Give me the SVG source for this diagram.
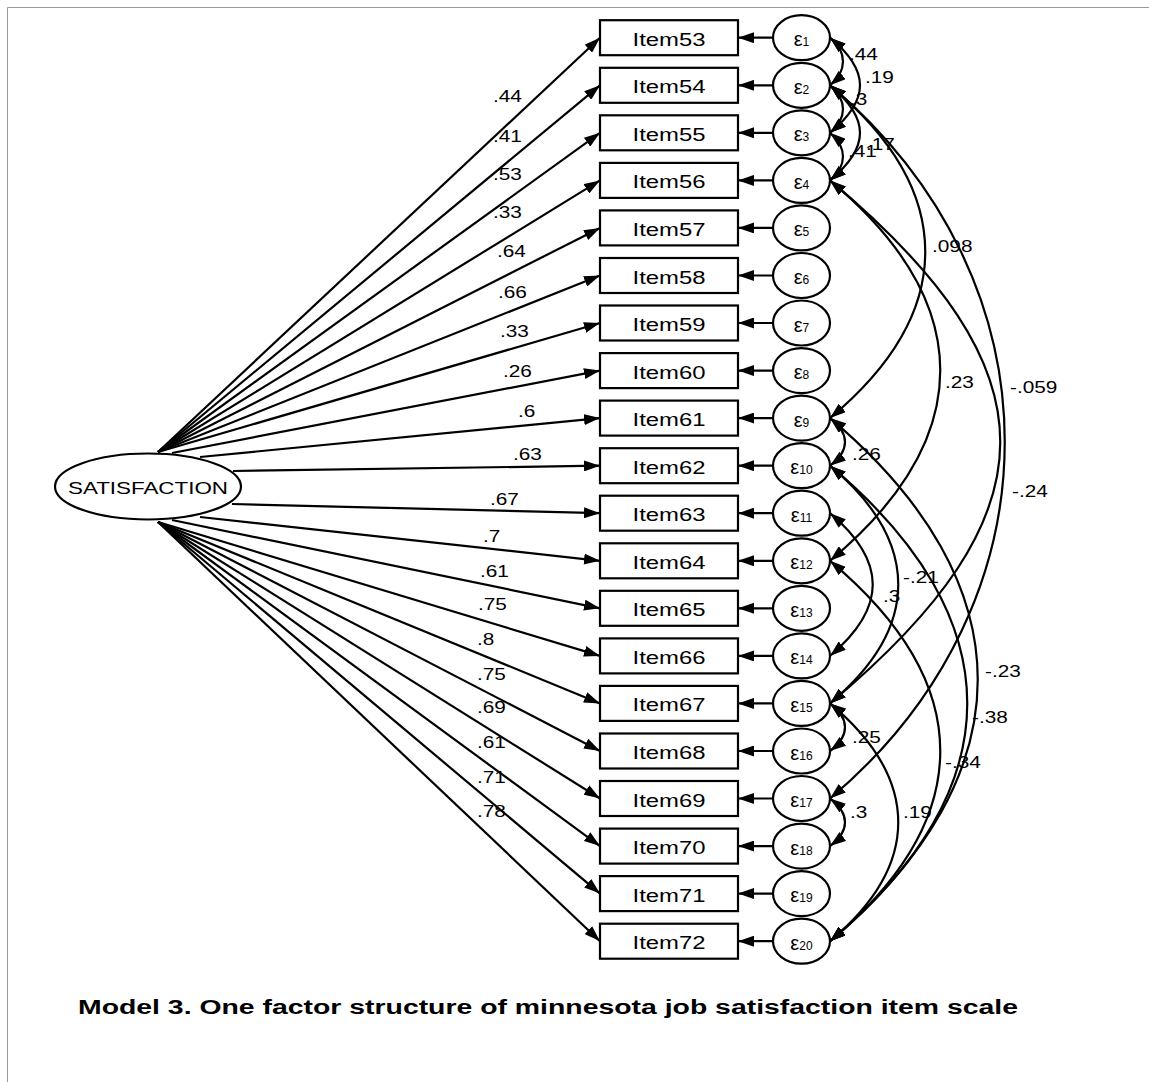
<svg xmlns="http://www.w3.org/2000/svg" width="1149" height="1082" viewBox="0 0 1149 1082">
<style>
text{font-family:"Liberation Sans",Arial,sans-serif;fill:#000}
.box{fill:#fff;stroke:#000;stroke-width:2.2}
.lat{fill:#fff;stroke:#000;stroke-width:2.2}
.conn{fill:none;stroke:#000;stroke-width:2.2}
.one{marker-end:url(#ah)}
.two{marker-start:url(#ah);marker-end:url(#ah)}
.it{font-size:18px}
.eps{font-size:20px}
.sub{font-size:12px}
.lab{font-size:16px}
.cap{font-size:20px;font-weight:bold}
.frame{stroke:#999;stroke-width:1;fill:none}
</style>
<defs>
<marker id="ah" viewBox="0 0 16 11" refX="16" refY="5.5" markerWidth="16" markerHeight="11" markerUnits="userSpaceOnUse" orient="auto-start-reverse"><path d="M0,0 L16,5.5 L0,11 z" fill="#000"/></marker>
</defs>
<rect width="1149" height="1082" fill="#fff"/>
<path class="frame" d="M7.5,1082 V7.5 H1149"/>

<g id="connectors">
<g id="loadings">
<path class="conn one" d="M158,452 L600,37.7"/>
<path class="conn one" d="M158,452 L600,85.3"/>
<path class="conn one" d="M158,452 L600,132.8"/>
<path class="conn one" d="M158,452 L600,180.4"/>
<path class="conn one" d="M158,452 L600,227.9"/>
<path class="conn one" d="M158,452 L600,275.5"/>
<path class="conn one" d="M158,452 L600,323.0"/>
<path class="conn one" d="M172,453 L600,370.6"/>
<path class="conn one" d="M200,457 L600,418.1"/>
<path class="conn one" d="M233,471 L600,465.7"/>
<path class="conn one" d="M232,504 L600,513.2"/>
<path class="conn one" d="M200,517 L600,560.8"/>
<path class="conn one" d="M172,520 L600,608.3"/>
<path class="conn one" d="M158,522 L600,655.9"/>
<path class="conn one" d="M158,522 L600,703.4"/>
<path class="conn one" d="M158,522 L600,751.0"/>
<path class="conn one" d="M158,522 L600,798.5"/>
<path class="conn one" d="M158,522 L600,846.1"/>
<path class="conn one" d="M158,522 L600,893.6"/>
<path class="conn one" d="M158,522 L600,941.2"/>
</g>
<g id="errors">
<path class="conn one" d="M773,37.7 H738"/>
<path class="conn one" d="M773,85.3 H738"/>
<path class="conn one" d="M773,132.8 H738"/>
<path class="conn one" d="M773,180.4 H738"/>
<path class="conn one" d="M773,227.9 H738"/>
<path class="conn one" d="M773,275.5 H738"/>
<path class="conn one" d="M773,323.0 H738"/>
<path class="conn one" d="M773,370.6 H738"/>
<path class="conn one" d="M773,418.1 H738"/>
<path class="conn one" d="M773,465.7 H738"/>
<path class="conn one" d="M773,513.2 H738"/>
<path class="conn one" d="M773,560.8 H738"/>
<path class="conn one" d="M773,608.3 H738"/>
<path class="conn one" d="M773,655.9 H738"/>
<path class="conn one" d="M773,703.4 H738"/>
<path class="conn one" d="M773,751.0 H738"/>
<path class="conn one" d="M773,798.5 H738"/>
<path class="conn one" d="M773,846.1 H738"/>
<path class="conn one" d="M773,893.6 H738"/>
<path class="conn one" d="M773,941.2 H738"/>
</g>
<g id="covariances">
<path class="conn two" d="M830,37.7 C847.3,52.2 847.3,70.8 830,85.3"/>
<path class="conn two" d="M830,37.7 C870,70.7 870,99.8 830,132.8"/>
<path class="conn two" d="M830,85.3 C847.3,99.8 847.3,118.3 830,132.8"/>
<path class="conn two" d="M830,132.8 C847.3,147.3 847.3,165.9 830,180.4"/>
<path class="conn two" d="M830,85.3 C870,118.3 870,147.4 830,180.4"/>
<path class="conn two" d="M830,85.3 C957,191.3 957,312.1 830,418.1"/>
<path class="conn two" d="M830,180.4 C977,303.4 977,437.8 830,560.8"/>
<path class="conn two" d="M830,85.3 C1063,281.3 1063,602.5 830,798.5"/>
<path class="conn two" d="M830,180.4 C1057,370.4 1057,513.4 830,703.4"/>
<path class="conn two" d="M830,418.1 C850,433.1 850,450.7 830,465.7"/>
<path class="conn two" d="M830,513.2 C887,561.2 887,607.9 830,655.9"/>
<path class="conn two" d="M830,465.7 C921,541.7 921,627.4 830,703.4"/>
<path class="conn two" d="M830,418.1 C1027,584.1 1027,775.2 830,941.2"/>
<path class="conn two" d="M830,465.7 C1013,618.7 1013,788.2 830,941.2"/>
<path class="conn two" d="M830,560.8 C977,683.8 977,818.2 830,941.2"/>
<path class="conn two" d="M830,703.4 C850,718.4 850,736.0 830,751.0"/>
<path class="conn two" d="M830,703.4 C921,779.4 921,865.2 830,941.2"/>
<path class="conn two" d="M830,798.5 C850,813.5 850,831.1 830,846.1"/>
</g>
<g id="loading-labels" class="lab">
<text x="493" y="102" textLength="28.9" lengthAdjust="spacingAndGlyphs">.44</text>
<text x="493" y="142" textLength="28.9" lengthAdjust="spacingAndGlyphs">.41</text>
<text x="493" y="180" textLength="28.9" lengthAdjust="spacingAndGlyphs">.53</text>
<text x="493" y="218" textLength="28.9" lengthAdjust="spacingAndGlyphs">.33</text>
<text x="497" y="257" textLength="28.9" lengthAdjust="spacingAndGlyphs">.64</text>
<text x="498" y="298" textLength="28.9" lengthAdjust="spacingAndGlyphs">.66</text>
<text x="500" y="337" textLength="28.9" lengthAdjust="spacingAndGlyphs">.33</text>
<text x="503" y="377" textLength="28.9" lengthAdjust="spacingAndGlyphs">.26</text>
<text x="518" y="417" textLength="17.3" lengthAdjust="spacingAndGlyphs">.6</text>
<text x="513" y="460" textLength="28.9" lengthAdjust="spacingAndGlyphs">.63</text>
<text x="490" y="505" textLength="28.9" lengthAdjust="spacingAndGlyphs">.67</text>
<text x="483" y="542" textLength="17.3" lengthAdjust="spacingAndGlyphs">.7</text>
<text x="480" y="577" textLength="28.9" lengthAdjust="spacingAndGlyphs">.61</text>
<text x="478" y="610" textLength="28.9" lengthAdjust="spacingAndGlyphs">.75</text>
<text x="477" y="645" textLength="17.3" lengthAdjust="spacingAndGlyphs">.8</text>
<text x="477" y="680" textLength="28.9" lengthAdjust="spacingAndGlyphs">.75</text>
<text x="477" y="713" textLength="28.9" lengthAdjust="spacingAndGlyphs">.69</text>
<text x="477" y="748" textLength="28.9" lengthAdjust="spacingAndGlyphs">.61</text>
<text x="477" y="783" textLength="28.9" lengthAdjust="spacingAndGlyphs">.71</text>
<text x="477" y="817" textLength="28.9" lengthAdjust="spacingAndGlyphs">.78</text>
</g>
<g id="covariance-labels" class="lab">
<text x="849" y="60" textLength="28.9" lengthAdjust="spacingAndGlyphs">.44</text>
<text x="865" y="83" textLength="28.9" lengthAdjust="spacingAndGlyphs">.19</text>
<text x="850" y="105" textLength="17.3" lengthAdjust="spacingAndGlyphs">.3</text>
<text x="866" y="150" textLength="28.9" lengthAdjust="spacingAndGlyphs">.17</text>
<text x="848" y="157" textLength="28.9" lengthAdjust="spacingAndGlyphs">.41</text>
<text x="932" y="252" textLength="40.5" lengthAdjust="spacingAndGlyphs">.098</text>
<text x="945" y="388" textLength="28.9" lengthAdjust="spacingAndGlyphs">.23</text>
<text x="1010" y="393" textLength="47.4" lengthAdjust="spacingAndGlyphs">-.059</text>
<text x="852" y="460" textLength="28.9" lengthAdjust="spacingAndGlyphs">.26</text>
<text x="1012" y="497" textLength="35.8" lengthAdjust="spacingAndGlyphs">-.24</text>
<text x="903" y="583" textLength="35.8" lengthAdjust="spacingAndGlyphs">-.21</text>
<text x="883" y="602" textLength="17.3" lengthAdjust="spacingAndGlyphs">.3</text>
<text x="985" y="677" textLength="35.8" lengthAdjust="spacingAndGlyphs">-.23</text>
<text x="972" y="723" textLength="35.8" lengthAdjust="spacingAndGlyphs">-.38</text>
<text x="852" y="743" textLength="28.9" lengthAdjust="spacingAndGlyphs">.25</text>
<text x="945" y="768" textLength="35.8" lengthAdjust="spacingAndGlyphs">-.34</text>
<text x="850" y="818" textLength="17.3" lengthAdjust="spacingAndGlyphs">.3</text>
<text x="903" y="818" textLength="28.9" lengthAdjust="spacingAndGlyphs">.19</text>
</g>
</g>

<g id="satisfaction">
<ellipse class="lat" cx="148" cy="486.5" rx="93" ry="33"/>
<text x="68" y="494" font-size="17" textLength="160" lengthAdjust="spacingAndGlyphs">SATISFACTION</text>
</g>

<g id="items" class="it">
<g id="item53"><rect class="box" x="600" y="20.2" width="138" height="35"/><text x="632.5" y="45.7" textLength="73" lengthAdjust="spacingAndGlyphs">Item53</text></g>
<g id="item54"><rect class="box" x="600" y="67.8" width="138" height="35"/><text x="632.5" y="93.3" textLength="73" lengthAdjust="spacingAndGlyphs">Item54</text></g>
<g id="item55"><rect class="box" x="600" y="115.3" width="138" height="35"/><text x="632.5" y="140.8" textLength="73" lengthAdjust="spacingAndGlyphs">Item55</text></g>
<g id="item56"><rect class="box" x="600" y="162.9" width="138" height="35"/><text x="632.5" y="188.4" textLength="73" lengthAdjust="spacingAndGlyphs">Item56</text></g>
<g id="item57"><rect class="box" x="600" y="210.4" width="138" height="35"/><text x="632.5" y="235.9" textLength="73" lengthAdjust="spacingAndGlyphs">Item57</text></g>
<g id="item58"><rect class="box" x="600" y="258.0" width="138" height="35"/><text x="632.5" y="283.5" textLength="73" lengthAdjust="spacingAndGlyphs">Item58</text></g>
<g id="item59"><rect class="box" x="600" y="305.5" width="138" height="35"/><text x="632.5" y="331.0" textLength="73" lengthAdjust="spacingAndGlyphs">Item59</text></g>
<g id="item60"><rect class="box" x="600" y="353.1" width="138" height="35"/><text x="632.5" y="378.6" textLength="73" lengthAdjust="spacingAndGlyphs">Item60</text></g>
<g id="item61"><rect class="box" x="600" y="400.6" width="138" height="35"/><text x="632.5" y="426.1" textLength="73" lengthAdjust="spacingAndGlyphs">Item61</text></g>
<g id="item62"><rect class="box" x="600" y="448.2" width="138" height="35"/><text x="632.5" y="473.7" textLength="73" lengthAdjust="spacingAndGlyphs">Item62</text></g>
<g id="item63"><rect class="box" x="600" y="495.7" width="138" height="35"/><text x="632.5" y="521.2" textLength="73" lengthAdjust="spacingAndGlyphs">Item63</text></g>
<g id="item64"><rect class="box" x="600" y="543.3" width="138" height="35"/><text x="632.5" y="568.8" textLength="73" lengthAdjust="spacingAndGlyphs">Item64</text></g>
<g id="item65"><rect class="box" x="600" y="590.8" width="138" height="35"/><text x="632.5" y="616.3" textLength="73" lengthAdjust="spacingAndGlyphs">Item65</text></g>
<g id="item66"><rect class="box" x="600" y="638.4" width="138" height="35"/><text x="632.5" y="663.9" textLength="73" lengthAdjust="spacingAndGlyphs">Item66</text></g>
<g id="item67"><rect class="box" x="600" y="685.9" width="138" height="35"/><text x="632.5" y="711.4" textLength="73" lengthAdjust="spacingAndGlyphs">Item67</text></g>
<g id="item68"><rect class="box" x="600" y="733.5" width="138" height="35"/><text x="632.5" y="759.0" textLength="73" lengthAdjust="spacingAndGlyphs">Item68</text></g>
<g id="item69"><rect class="box" x="600" y="781.0" width="138" height="35"/><text x="632.5" y="806.5" textLength="73" lengthAdjust="spacingAndGlyphs">Item69</text></g>
<g id="item70"><rect class="box" x="600" y="828.6" width="138" height="35"/><text x="632.5" y="854.1" textLength="73" lengthAdjust="spacingAndGlyphs">Item70</text></g>
<g id="item71"><rect class="box" x="600" y="876.1" width="138" height="35"/><text x="632.5" y="901.6" textLength="73" lengthAdjust="spacingAndGlyphs">Item71</text></g>
<g id="item72"><rect class="box" x="600" y="923.7" width="138" height="35"/><text x="632.5" y="949.2" textLength="73" lengthAdjust="spacingAndGlyphs">Item72</text></g>
</g>

<g id="error-terms" class="eps">
<g id="e1"><ellipse class="lat" cx="801.5" cy="37.7" rx="28.5" ry="22.5"/><text x="801.5" y="46.2" text-anchor="middle">ε<tspan class="sub">1</tspan></text></g>
<g id="e2"><ellipse class="lat" cx="801.5" cy="85.3" rx="28.5" ry="22.5"/><text x="801.5" y="93.8" text-anchor="middle">ε<tspan class="sub">2</tspan></text></g>
<g id="e3"><ellipse class="lat" cx="801.5" cy="132.8" rx="28.5" ry="22.5"/><text x="801.5" y="141.3" text-anchor="middle">ε<tspan class="sub">3</tspan></text></g>
<g id="e4"><ellipse class="lat" cx="801.5" cy="180.4" rx="28.5" ry="22.5"/><text x="801.5" y="188.9" text-anchor="middle">ε<tspan class="sub">4</tspan></text></g>
<g id="e5"><ellipse class="lat" cx="801.5" cy="227.9" rx="28.5" ry="22.5"/><text x="801.5" y="236.4" text-anchor="middle">ε<tspan class="sub">5</tspan></text></g>
<g id="e6"><ellipse class="lat" cx="801.5" cy="275.5" rx="28.5" ry="22.5"/><text x="801.5" y="284.0" text-anchor="middle">ε<tspan class="sub">6</tspan></text></g>
<g id="e7"><ellipse class="lat" cx="801.5" cy="323.0" rx="28.5" ry="22.5"/><text x="801.5" y="331.5" text-anchor="middle">ε<tspan class="sub">7</tspan></text></g>
<g id="e8"><ellipse class="lat" cx="801.5" cy="370.6" rx="28.5" ry="22.5"/><text x="801.5" y="379.1" text-anchor="middle">ε<tspan class="sub">8</tspan></text></g>
<g id="e9"><ellipse class="lat" cx="801.5" cy="418.1" rx="28.5" ry="22.5"/><text x="801.5" y="426.6" text-anchor="middle">ε<tspan class="sub">9</tspan></text></g>
<g id="e10"><ellipse class="lat" cx="801.5" cy="465.7" rx="28.5" ry="22.5"/><text x="801.5" y="474.2" text-anchor="middle">ε<tspan class="sub">10</tspan></text></g>
<g id="e11"><ellipse class="lat" cx="801.5" cy="513.2" rx="28.5" ry="22.5"/><text x="801.5" y="521.7" text-anchor="middle">ε<tspan class="sub">11</tspan></text></g>
<g id="e12"><ellipse class="lat" cx="801.5" cy="560.8" rx="28.5" ry="22.5"/><text x="801.5" y="569.3" text-anchor="middle">ε<tspan class="sub">12</tspan></text></g>
<g id="e13"><ellipse class="lat" cx="801.5" cy="608.3" rx="28.5" ry="22.5"/><text x="801.5" y="616.8" text-anchor="middle">ε<tspan class="sub">13</tspan></text></g>
<g id="e14"><ellipse class="lat" cx="801.5" cy="655.9" rx="28.5" ry="22.5"/><text x="801.5" y="664.4" text-anchor="middle">ε<tspan class="sub">14</tspan></text></g>
<g id="e15"><ellipse class="lat" cx="801.5" cy="703.4" rx="28.5" ry="22.5"/><text x="801.5" y="711.9" text-anchor="middle">ε<tspan class="sub">15</tspan></text></g>
<g id="e16"><ellipse class="lat" cx="801.5" cy="751.0" rx="28.5" ry="22.5"/><text x="801.5" y="759.5" text-anchor="middle">ε<tspan class="sub">16</tspan></text></g>
<g id="e17"><ellipse class="lat" cx="801.5" cy="798.5" rx="28.5" ry="22.5"/><text x="801.5" y="807.0" text-anchor="middle">ε<tspan class="sub">17</tspan></text></g>
<g id="e18"><ellipse class="lat" cx="801.5" cy="846.1" rx="28.5" ry="22.5"/><text x="801.5" y="854.6" text-anchor="middle">ε<tspan class="sub">18</tspan></text></g>
<g id="e19"><ellipse class="lat" cx="801.5" cy="893.6" rx="28.5" ry="22.5"/><text x="801.5" y="902.1" text-anchor="middle">ε<tspan class="sub">19</tspan></text></g>
<g id="e20"><ellipse class="lat" cx="801.5" cy="941.2" rx="28.5" ry="22.5"/><text x="801.5" y="949.7" text-anchor="middle">ε<tspan class="sub">20</tspan></text></g>
</g>

<text class="cap" x="78" y="1014" textLength="940" lengthAdjust="spacingAndGlyphs">Model 3. One factor structure of minnesota job satisfaction item scale</text>
</svg>
